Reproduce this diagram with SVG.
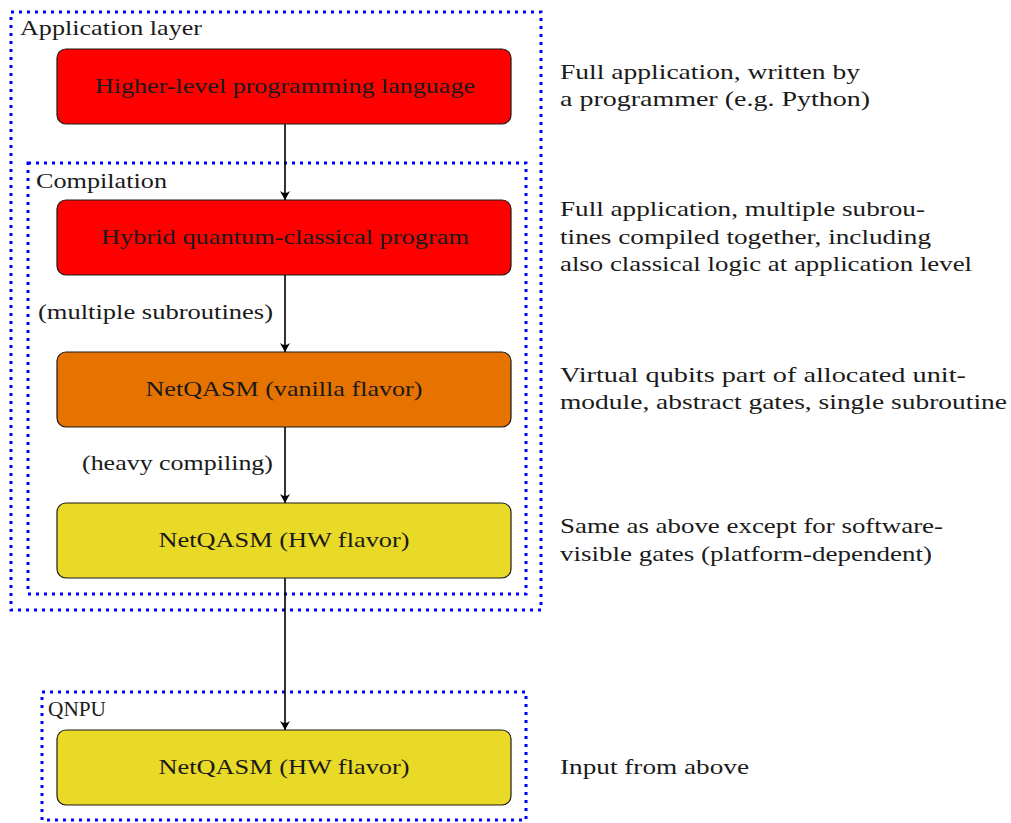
<svg xmlns="http://www.w3.org/2000/svg" width="1011" height="823" viewBox="0 0 1011 823" font-family="'Liberation Serif', 'DejaVu Serif', serif">
<defs>
<style>
text{font-family:'Liberation Serif','DejaVu Serif',serif;font-size:22px;fill:#1a1a1a}
.frame{fill:none;stroke:#0000ff;stroke-width:3;stroke-dasharray:3 5}
.node{stroke:#1a1a1a;stroke-width:1.2}
.red{fill:#ff0000}
.orange{fill:#e67300}
.yellow{fill:#eada28}
.c{text-anchor:middle}
.e{text-anchor:end}
.edge{stroke:#000;stroke-width:1.6;fill:none;marker-end:url(#ah)}
</style>
<marker id="ah" markerWidth="12" markerHeight="12" viewBox="-10 -6 12 12" refX="0" refY="0" orient="auto" markerUnits="userSpaceOnUse">
<path d="M0,0 L-9,-5 Q-5,0 -9,5 Z" fill="#000"/>
</marker>
</defs>
<g id="frame-application">
<rect class="frame" x="11" y="12" width="530" height="598"/>
<text x="20" y="35" textLength="182" lengthAdjust="spacingAndGlyphs">Application layer</text>
</g>
<g id="frame-compilation">
<rect class="frame" x="28" y="163" width="498" height="431"/>
<text x="36" y="188" textLength="131" lengthAdjust="spacingAndGlyphs">Compilation</text>
</g>
<g id="frame-qnpu">
<rect class="frame" x="42" y="692" width="484" height="128"/>
<text x="48" y="716" textLength="58" lengthAdjust="spacingAndGlyphs">QNPU</text>
</g>
<g id="connectors">
<line class="edge" x1="285" y1="124" x2="285" y2="200"/>
<line class="edge" x1="285" y1="275" x2="285" y2="352"/>
<line class="edge" x1="285" y1="427" x2="285" y2="503"/>
<line class="edge" x1="285" y1="578" x2="285" y2="730"/>
<text class="e" x="273" y="319" textLength="235" lengthAdjust="spacingAndGlyphs">(multiple subroutines)</text>
<text class="e" x="273" y="470" textLength="191" lengthAdjust="spacingAndGlyphs">(heavy compiling)</text>
</g>
<g id="node-higher">
<rect class="node red" x="57" y="49" width="454" height="75" rx="9"/>
<text class="c" x="285" y="93" textLength="380" lengthAdjust="spacingAndGlyphs">Higher-level programming language</text>
</g>
<g id="node-hybrid">
<rect class="node red" x="57" y="200" width="454" height="75" rx="9"/>
<text class="c" x="285" y="244" textLength="368" lengthAdjust="spacingAndGlyphs">Hybrid quantum-classical program</text>
</g>
<g id="node-vanilla">
<rect class="node orange" x="57" y="352" width="454" height="75" rx="9"/>
<text class="c" x="284" y="396" textLength="277" lengthAdjust="spacingAndGlyphs">NetQASM (vanilla flavor)</text>
</g>
<g id="node-hw">
<rect class="node yellow" x="57" y="503" width="454" height="75" rx="9"/>
<text class="c" x="284" y="547" textLength="251" lengthAdjust="spacingAndGlyphs">NetQASM (HW flavor)</text>
</g>
<g id="node-qnpu-hw">
<rect class="node yellow" x="57" y="730" width="454" height="75" rx="9"/>
<text class="c" x="284" y="774" textLength="251" lengthAdjust="spacingAndGlyphs">NetQASM (HW flavor)</text>
</g>
<g id="notes">
<text x="560" y="79" textLength="300" lengthAdjust="spacingAndGlyphs">Full application, written by</text>
<text x="560" y="106" textLength="310" lengthAdjust="spacingAndGlyphs">a programmer (e.g. Python)</text>
<text x="560" y="216" textLength="365" lengthAdjust="spacingAndGlyphs">Full application, multiple subrou-</text>
<text x="560" y="244" textLength="371" lengthAdjust="spacingAndGlyphs">tines compiled together, including</text>
<text x="560" y="271" textLength="412" lengthAdjust="spacingAndGlyphs">also classical logic at application level</text>
<text x="560" y="382" textLength="406" lengthAdjust="spacingAndGlyphs">Virtual qubits part of allocated unit-</text>
<text x="560" y="409" textLength="447" lengthAdjust="spacingAndGlyphs">module, abstract gates, single subroutine</text>
<text x="560" y="533" textLength="383" lengthAdjust="spacingAndGlyphs">Same as above except for software-</text>
<text x="560" y="561" textLength="372" lengthAdjust="spacingAndGlyphs">visible gates (platform-dependent)</text>
<text x="560" y="774" textLength="189" lengthAdjust="spacingAndGlyphs">Input from above</text>
</g>
</svg>
